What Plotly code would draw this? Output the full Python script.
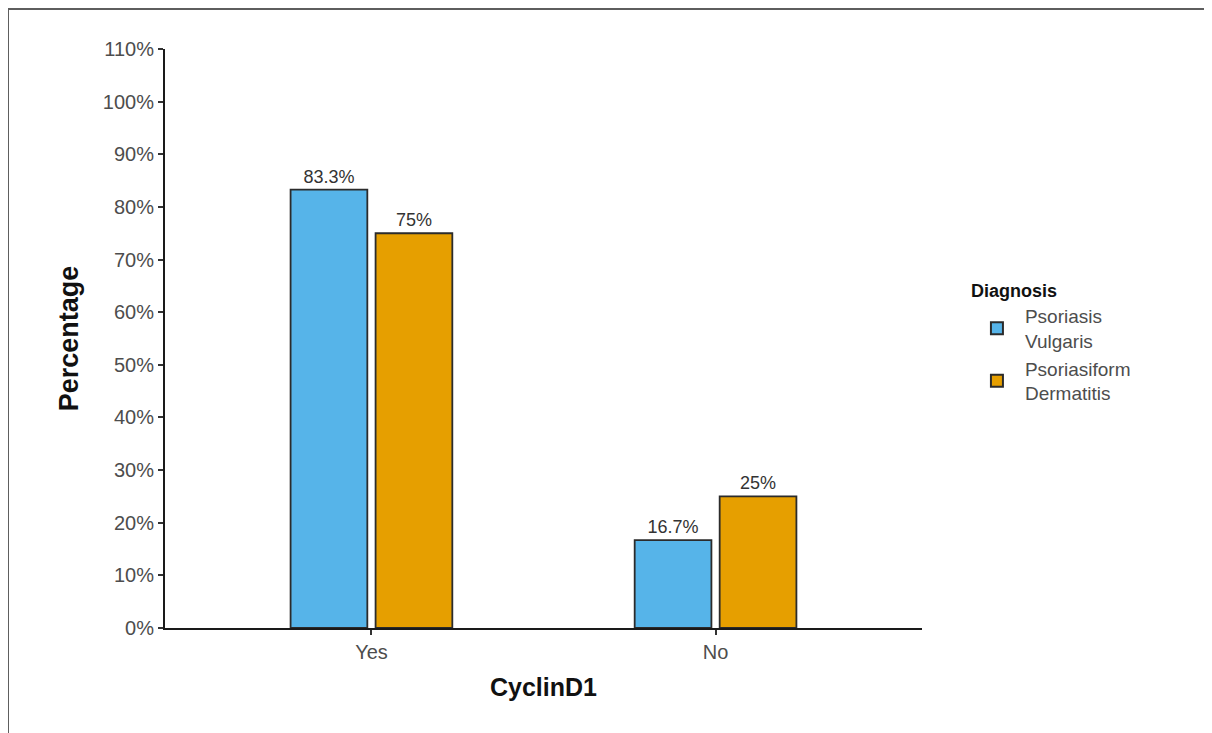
import plotly.graph_objects as go

categories = ["Yes", "No"]
series_names = ["Psoriasis<br>Vulgaris", "Psoriasiform<br>Dermatitis"]
pv_values = [83.3, 16.7]
pd_values = [75.0, 25.0]
pv_labels = ["83.3%", "16.7%"]
pd_labels = ["75%", "25%"]
y_ticks = list(range(0, 111, 10))
y_ticklabels = [f"{t}%" for t in y_ticks]

colors = ["#56B4E9", "#E69F00"]
FONT = "Liberation Sans, Arial, sans-serif"

fig = go.Figure()
for name, vals, labs, col, off in [
    (series_names[0], pv_values, pv_labels, colors[0], -0.235),
    (series_names[1], pd_values, pd_labels, colors[1], 0.012),
]:
    fig.add_trace(go.Bar(
        x=categories, y=vals, name=name,
        width=0.223, offset=off,
        marker=dict(color=col, line=dict(color="#2b2b2b", width=1.8)),
        text=labs, textposition="outside", cliponaxis=False,
        textfont=dict(family=FONT, size=18, color="#333333"),
    ))

# page has an 8px body margin, so figure coordinates are reference pixels - 8
OFF = 8
W, H = 1212 - OFF, 733 - OFF
L, R, T, B = 165 - OFF, 922 - OFF, 49 - OFF, 628 - OFF
fig.update_layout(
    width=W, height=H,
    margin=dict(l=L, r=W - R, t=T, b=H - B, autoexpand=False),
    plot_bgcolor="white", paper_bgcolor="white",
    font=dict(family=FONT),
    barmode="group",
    showlegend=True,
    legend=dict(
        title=dict(text="<b>Diagnosis</b>", font=dict(family=FONT, size=18, color="#111111")),
        font=dict(family=FONT, size=19, color="#4d4d4d"),
        x=1.062, xanchor="left", y=0.612, yanchor="top",
        tracegroupgap=0, itemsizing="constant", itemwidth=46,
    ),
    xaxis=dict(
        range=[-0.6, 1.6], showline=True, linecolor="#1a1a1a", linewidth=2,
        ticks="outside", ticklen=5, tickcolor="#333333", tickwidth=1.5,
        tickfont=dict(family=FONT, size=20, color="#4d4d4d"),
        title=dict(text="<b>CyclinD1</b>", font=dict(family=FONT, size=25, color="#111111"), standoff=16),
        showgrid=False, zeroline=False,
    ),
    yaxis=dict(
        range=[0, 110], showline=True, linecolor="#1a1a1a", linewidth=2,
        tickvals=y_ticks, ticktext=y_ticklabels,
        ticks="outside", ticklen=5, tickcolor="#333333", tickwidth=1.5,
        tickfont=dict(family=FONT, size=20, color="#4d4d4d"),
        title=dict(text="<b>Percentage</b>", font=dict(family=FONT, size=27, color="#111111"), standoff=16),
        showgrid=False, zeroline=False,
    ),
)

# outer frame around the figure
pw, ph = R - L, B - T
def px_x(p):
    return (p - OFF - L) / pw
def px_y(p):
    return (B - (p - OFF)) / ph
fig.add_shape(type="rect", xref="paper", yref="paper",
              x0=px_x(8), x1=px_x(1210), y0=px_y(745), y1=px_y(9),
              line=dict(color="#5e5e5e", width=2), fillcolor="rgba(0,0,0,0)", layer="below")

fig.write_html("out.html")
